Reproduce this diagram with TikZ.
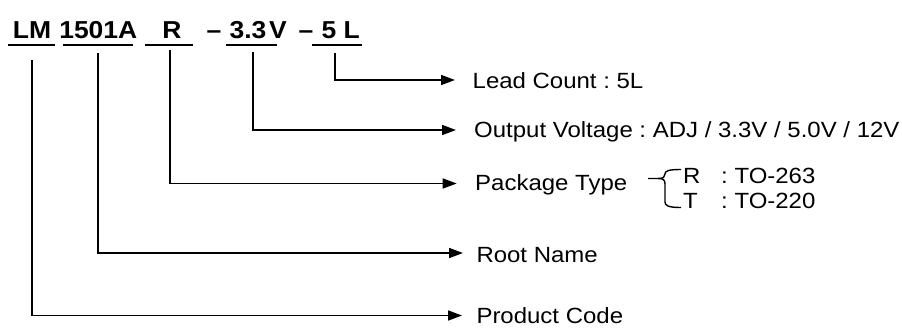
\documentclass[tikz,border=0pt]{standalone}
\usepackage{fontspec}
\setmainfont{Liberation Sans}[FakeStretch=1.08]
\newfontfamily\lblfont{Liberation Sans}[FakeStretch=1.09]
\usetikzlibrary{arrows.meta}
\frenchspacing
\begin{document}
\frenchspacing
\begin{tikzpicture}[x=1pt,y=-1pt,
  code/.style={font=\fontsize{24.5}{26}\selectfont\bfseries, inner sep=0pt, anchor=base},
  lbl/.style={font=\lblfont\fontsize{22}{24}\selectfont\frenchspacing, inner sep=0pt, anchor=base west},
  conn/.style={line width=1.6pt, -{Triangle[length=14pt,width=10pt]}},
  uline/.style={line width=2.6pt},
  bracepath/.style={line width=1.4pt}]
\useasboundingbox (0,0) rectangle (902,327);

% part number
\node[code] (cLM) at (32,38) {LM};
\node[code] (c1501) at (98.3,38) {1501A};
\node[code] (cR) at (172,38) {R};
\node[code] (d1) at (214,38) {–};
\node[code] (c33) at (248,38) {3.3};
\node[code] (cV) at (278,38) {V};
\node[code] (d2) at (306,38) {–};
\node[code] (c5) at (329,38) {5};
\node[code] (cL) at (351.7,38) {L};

% underlines
\draw[uline] (8,45) -- (55,45);
\draw[uline] (63.3,45) -- (132.7,45);
\draw[uline] (145,45) -- (192.7,45);
\draw[uline] (226,45) -- (276.7,45);
\draw[uline] (311.7,45) -- (361.7,45);

% labels
\node[lbl] (lead) at (472.5,88) {Lead Count : 5L};
\node[lbl] (outv) at (474,137) {Output Voltage : ADJ / 3.3V / 5.0V / 12V};
\node[lbl] (pkg) at (475,190.7) {Package Type};
\node[lbl] (root) at (476.3,262.7) {Root Name};
\node[lbl] (prod) at (476.3,323.3) {Product Code};
\node[lbl] (pR) at (683,183.3) {R};
\node[lbl] (pRv) at (721,183.3) {: TO-263};
\node[lbl] (pT) at (683,208.5) {T};
\node[lbl] (pTv) at (721,208.5) {: TO-220};

% connector end points
\coordinate (s5) at (335,53);
\coordinate (t5) at (455,80);
\coordinate (s33) at (252.7,52);
\coordinate (t33) at (456,130);
\coordinate (sR) at (170,50);
\coordinate (tR) at (456.7,183.5);
\coordinate (s1501) at (98,53);
\coordinate (t1501) at (463,253);
\coordinate (sLM) at (31.7,60);
\coordinate (tLM) at (462,315.5);

\draw[conn] (s5) |- (t5);
\draw[conn] (s33) |- (t33);
\draw[conn] (sR) |- (tR);
\draw[conn] (s1501) |- (t1501);
\draw[conn] (sLM) |- (tLM);

% brace
\draw[bracepath] (648,178.5) -- (658,178.5)
  .. controls (663.5,178.5) and (665,177) .. (665,174)
  .. controls (665,171) and (668,169.5) .. (681,169.5);
\draw[bracepath] (658,178.5)
  .. controls (663.5,178.5) and (665,180) .. (665,184)
  -- (665,202)
  .. controls (665,205.5) and (668,207.5) .. (681,207.5);
\end{tikzpicture}
\end{document}
